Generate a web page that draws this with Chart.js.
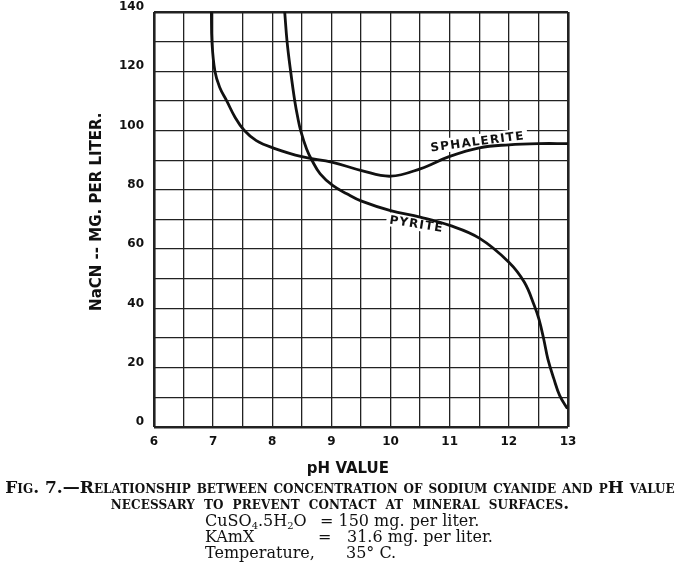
<!DOCTYPE html>
<html>
<head>
<meta charset="utf-8">
<script src="https://cdn.jsdelivr.net/npm/chart.js@4.4.1/dist/chart.umd.min.js"></script>
<style>
  body { margin: 0; background: #fff; }
  #wrap { position: relative; width: 680px; height: 572px; overflow: hidden; }
  #box { position: absolute; left: 0; top: 0; width: 680px; height: 481px; }
  .cap { position: absolute; white-space: nowrap; color: #111; font-family: "DejaVu Serif", serif; }
  .sc { font-variant: small-caps; font-weight: bold; left: 0; width: 680px; text-align: center; }
</style>
</head>
<body>
<div id="wrap">
  <div id="box"><canvas id="myChart"></canvas></div>
  <div class="cap sc" style="top:477px; font-size:17px;">Fig. 7.—Relationship between concentration of sodium cyanide and pH value</div>
  <div class="cap sc" style="top:493px; font-size:17px; word-spacing:3px; letter-spacing:0.1px;">necessary to prevent contact at mineral surfaces.</div>
  <div class="cap" style="top:511px; left:205px; font-size:16px;">CuSO<sub style="font-size:10px; vertical-align:-3px">4</sub>.5H<sub style="font-size:10px; vertical-align:-3px">2</sub>O</div>
  <div class="cap" style="top:511px; left:320px; font-size:16px;">= 150 mg. per liter.</div>
  <div class="cap" style="top:527px; left:205px; font-size:16px;">KAmX</div>
  <div class="cap" style="top:527px; left:318px; font-size:16px;">=</div>
  <div class="cap" style="top:527px; left:347px; font-size:16px;">31.6 mg. per liter.</div>
  <div class="cap" style="top:543px; left:205px; font-size:16px;">Temperature,</div>
  <div class="cap" style="top:543px; left:346px; font-size:16px;">35° C.</div>
</div>
<script>
// pH vs NaCN (mg per liter)
var sphaleritePH = [6.97, 6.98, 7.03, 7.11, 7.23, 7.37, 7.52, 7.73, 8.02, 8.5, 9.02, 9.51, 10.0, 10.5, 11.0, 11.5, 12.0, 12.5, 13.0];
var sphaleriteNaCN = [140, 130, 120, 114.6, 110, 104.5, 100.2, 96.6, 94.1, 91.2, 89.3, 86.5, 84.6, 87.1, 91.3, 94.2, 95.2, 95.6, 95.6];

var pyritePH = [8.21, 8.25, 8.31, 8.38, 8.43, 8.48, 8.58, 8.67, 8.81, 9.02, 9.26, 9.51, 10.0, 10.5, 11.0, 11.5, 12.0, 12.26, 12.43, 12.51, 12.59, 12.66, 12.76, 12.86, 12.99];
var pyriteNaCN = [140, 130, 120, 110, 104.5, 100, 93.8, 90, 85.4, 81.5, 78.7, 76.2, 73.0, 70.8, 68.0, 63.7, 55.6, 48.9, 41.0, 36.3, 29.6, 22.9, 16.3, 10.6, 6.2];

var xLabels = [6, 7, 8, 9, 10, 11, 12, 13];
var yLabels = [0, 20, 40, 60, 80, 100, 120, 140];

function toPoints(xs, ys) {
  var pts = [];
  for (var i = 0; i < xs.length; i++) pts.push({ x: xs[i], y: ys[i] });
  return pts;
}

// rótulos das curvas, com fundo branco por cima da grade
var curveLabels = {
  id: 'curveLabels',
  beforeDatasetsDraw: function(chart) {
    var ctx = chart.ctx;
    var x = chart.scales.x, y = chart.scales.y;
    var items = [
      { text: 'SPHALERITE', ph: 11.47, v: 96.4, angle: -7.5 },
      { text: 'PYRITE', ph: 10.44, v: 68.6, angle: 9 }
    ];
    items.forEach(function(it) {
      ctx.save();
      ctx.translate(x.getPixelForValue(it.ph), y.getPixelForValue(it.v));
      ctx.rotate(it.angle * Math.PI / 180);
      ctx.font = 'bold 12px "DejaVu Sans"';
      ctx.letterSpacing = '1.2px';
      var w = ctx.measureText(it.text).width;
      ctx.fillStyle = '#fff';
      ctx.fillRect(-w / 2 - 3, -7, w + 6, 14);
      ctx.fillStyle = '#111';
      ctx.textAlign = 'center';
      ctx.textBaseline = 'middle';
      ctx.fillText(it.text, 0, 1);
      ctx.restore();
    });
  }
};

var ctx = document.getElementById('myChart').getContext('2d');
var chart = new Chart(ctx, {
  type: 'line',
  data: {
    datasets: [{
      label: 'Sphalerite',
      data: toPoints(sphaleritePH, sphaleriteNaCN),
      borderColor: '#111',
      borderWidth: 2.8,
      pointRadius: 0,
      tension: 0.4,
      fill: false
    }, {
      label: 'Pyrite',
      data: toPoints(pyritePH, pyriteNaCN),
      borderColor: '#111',
      borderWidth: 2.8,
      pointRadius: 0,
      tension: 0.4,
      fill: false
    }]
  },
  options: {
    responsive: true,
    maintainAspectRatio: false,
    animation: false,
    layout: { padding: { left: 86, right: 112, top: 12, bottom: 0 } },
    plugins: { legend: { display: false }, tooltip: { enabled: false } },
    scales: {
      x: {
        type: 'linear',
        min: 6,
        max: 13,
        afterFit: function(s) { s.height = 54; s.paddingLeft = 0; s.paddingRight = 0; },
        border: { display: false },
        grid: {
          color: '#222',
          drawTicks: false,
          lineWidth: function(c) { return (c.tick && (c.tick.value === 6 || c.tick.value === 13)) ? 2.6 : 1.3; }
        },
        ticks: {
          stepSize: 0.5,
          padding: 8,
          color: '#111',
          font: { family: 'DejaVu Sans', weight: 'bold', size: 12 },
          maxRotation: 0,
          callback: function(v) { return xLabels.indexOf(v) >= 0 ? String(v) : ''; }
        },
        title: {
          display: true,
          text: 'pH VALUE     ',
          color: '#111',
          font: { family: 'DejaVu Sans', weight: 'bold', size: 15 },
          padding: { top: 3, bottom: 3 }
        }
      },
      y: {
        min: 0,
        max: 140,
        afterFit: function(s) { s.width = 68; s.paddingTop = 0; s.paddingBottom = 0; },
        border: { display: false },
        grid: {
          color: '#222',
          drawTicks: false,
          lineWidth: function(c) { return (c.tick && (c.tick.value === 0 || c.tick.value === 140)) ? 2.6 : 1.3; }
        },
        ticks: {
          stepSize: 10,
          padding: 10,
          labelOffset: -5,
          color: '#111',
          font: { family: 'DejaVu Sans', weight: 'bold', size: 12 },
          callback: function(v) { return yLabels.indexOf(v) >= 0 ? String(v) : ''; }
        },
        title: {
          display: true,
          text: '   NaCN -- MG. PER LITER.',
          color: '#111',
          font: { family: 'DejaVu Sans', weight: 'bold', size: 15 },
          padding: { top: 2, bottom: 2 }
        }
      }
    }
  },
  plugins: [curveLabels]
});
</script>
</body>
</html>
